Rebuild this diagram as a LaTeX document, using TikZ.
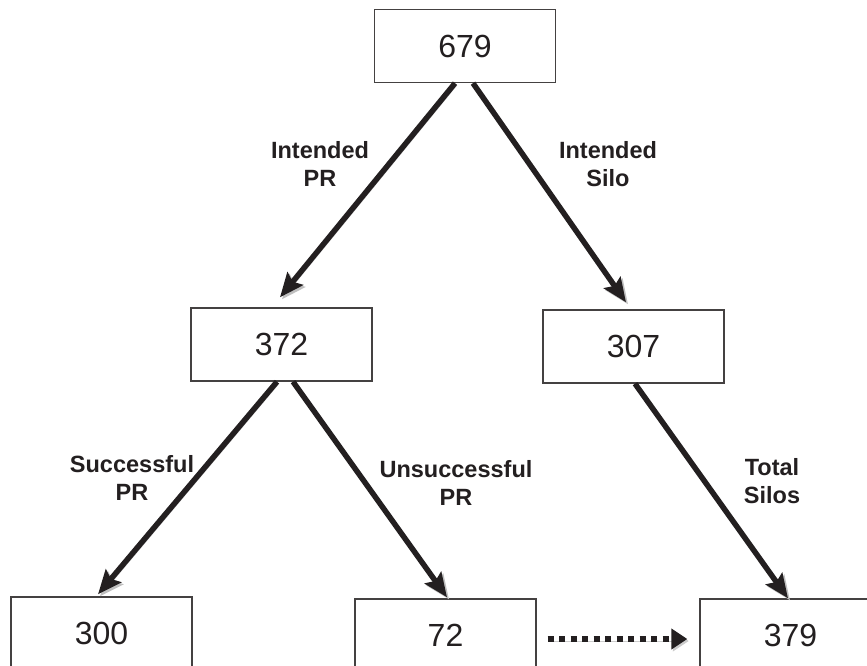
\documentclass[tikz,border=0pt]{standalone}
\usepackage{fontspec}
\setmainfont{Liberation Sans}
\usetikzlibrary{arrows.meta,calc}
\definecolor{ink}{HTML}{231F20}
\tikzset{
  numbox/.style={draw=ink!85, line width=1.4pt, minimum width=181pt, minimum height=73pt,
    inner sep=0pt, text=ink, font=\fontsize{32}{36}\selectfont},
  edgelabel/.style={align=center, text=ink, font=\fontsize{23.5}{28.5}\selectfont\bfseries, inner sep=0pt},
  flow/.style={draw=ink, line width=5.5pt, -{Stealth[length=24pt,width=20pt,inset=4pt]},
    preaction={draw=black!25, transform canvas={shift={(2pt,-2pt)}}}},
  dotflow/.style={draw=ink, line width=6pt, dash pattern=on 6pt off 5.5pt,
    -{Triangle[length=16pt,width=20pt]},
    preaction={draw=black!20, transform canvas={shift={(1.5pt,-2pt)}}}}
}
\begin{document}
\begin{tikzpicture}[x=1pt,y=-1pt]
\useasboundingbox (0,0) rectangle (867,666);
\clip (0,0) rectangle (867,666);
\fill[white] (0,0) rectangle (867,666);

\node[numbox] (n679) at (465,46) {679};
\node[numbox] (n372) at (281.5,344.5) {372};
\node[numbox] (n307) at (633.5,346.5) {307};
\node[numbox] (n300) at (101.5,633.5) {300};
\node[numbox] (n72) at (445.5,635.5) {72};
\node[numbox] (n379) at (790.5,635.5) {379};

\node[edgelabel] (l1) at (320,164) {Intended\\PR};
\node[edgelabel] (l2) at (608,164) {Intended\\Silo};
\node[edgelabel] (l3) at (132,478) {Successful\\PR};
\node[edgelabel] (l4) at (456,483) {Unsuccessful\\PR};
\node[edgelabel] (l5) at (772,481) {Total\\Silos};

\draw[flow] ($(n679.south)+(-10,0)$) -- ($(n372.north)+(-1.5,-10)$);
\draw[flow] ($(n679.south)+(8,0)$) -- ($(n307.north)+(-7.5,-7)$);
\draw[flow] ($(n372.south)+(-4.5,0)$) -- ($(n300.north)+(-3.5,-2)$);
\draw[flow] ($(n372.south)+(11.5,0)$) -- ($(n72.north)+(1.5,-1)$);
\draw[flow] ($(n307.south)+(1.5,0)$) -- ($(n379.north)+(-2.5,0)$);
\draw[dotflow] ($(n72.east)+(11,3.5)$) -- ($(n379.west)+(-12,3.5)$);
\end{tikzpicture}
\end{document}
